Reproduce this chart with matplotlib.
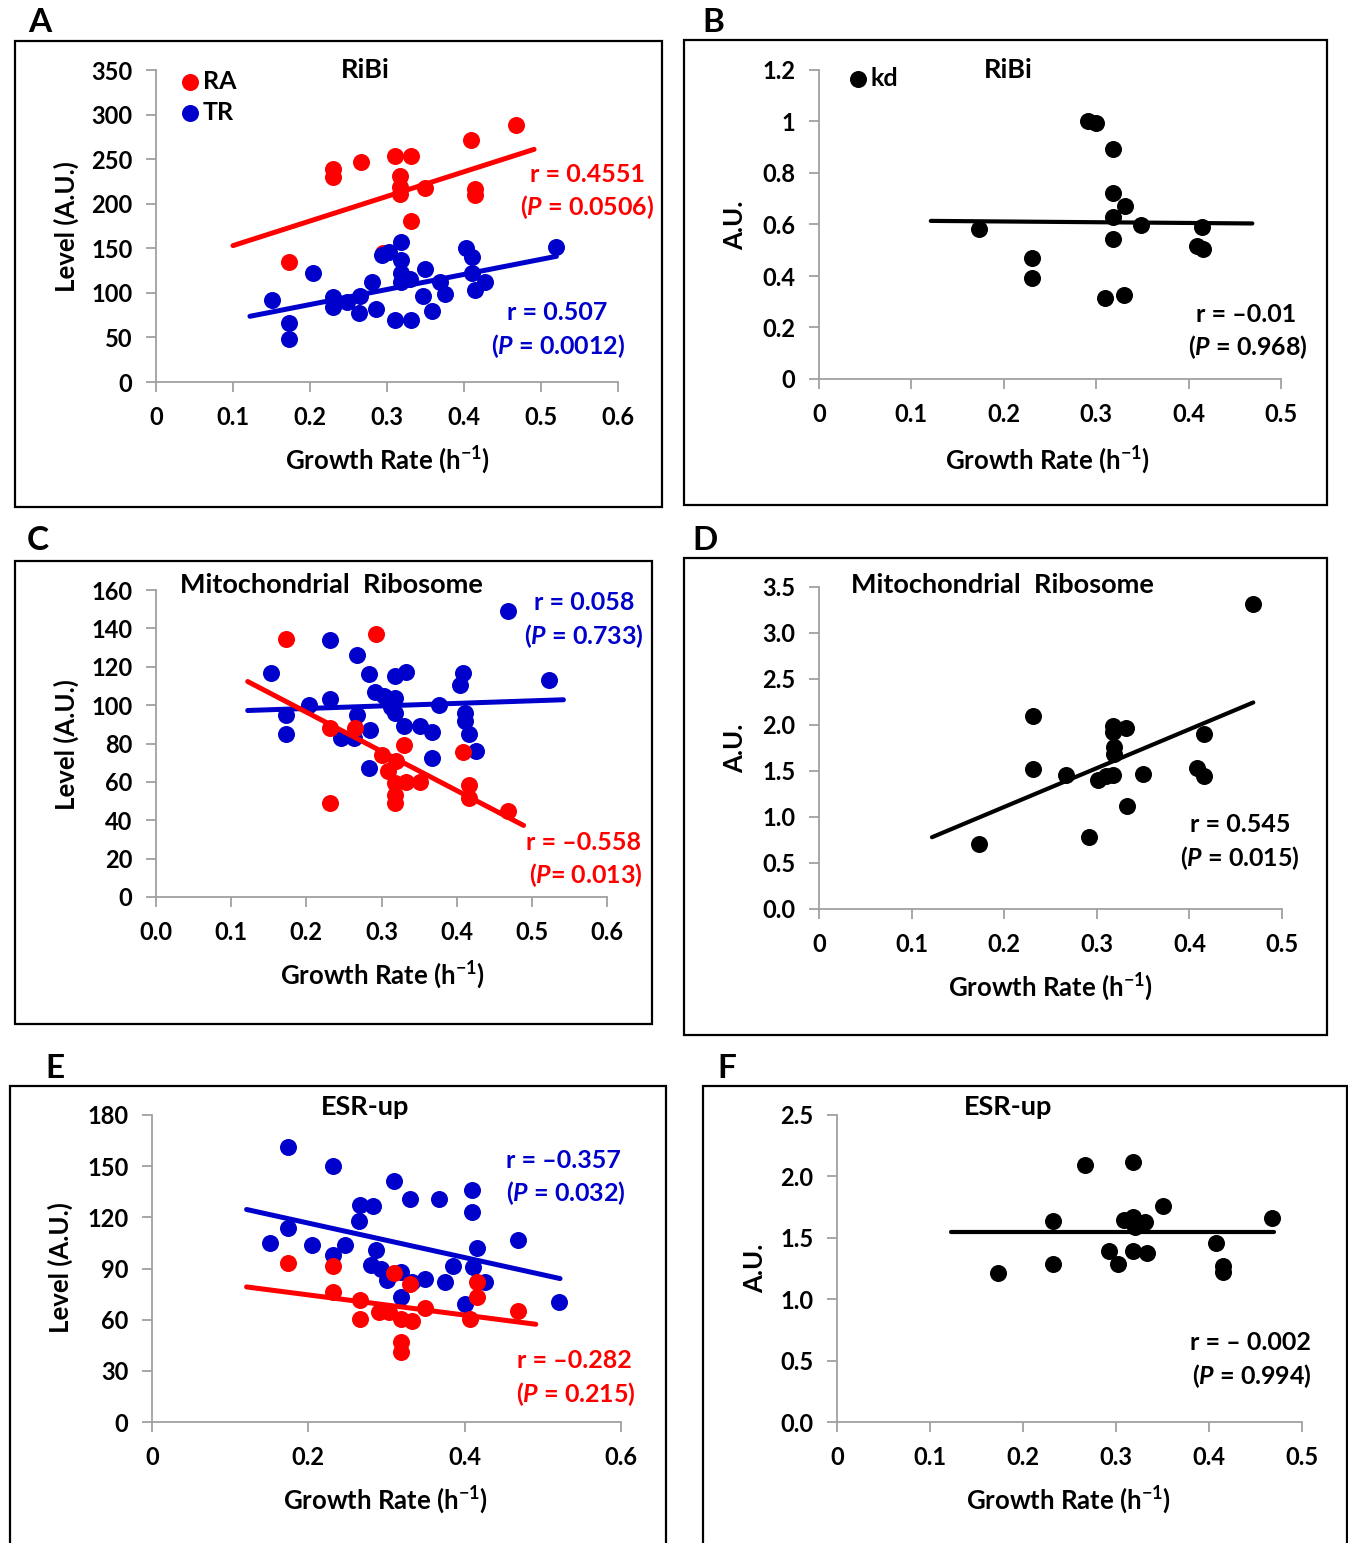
import matplotlib
matplotlib.use("Agg")
import matplotlib.pyplot as plt
from matplotlib.patches import Rectangle

W, H = 1348, 1543
RED = "#ff0000"
BLUE = "#0000cc"
BLACK = "#000000"
GREY = "#a0a0a0"

plt.rcParams.update({
    "font.family": ["Lato", "DejaVu Sans"],
    "font.weight": "bold",
    "axes.labelweight": "bold",
    "mathtext.fontset": "custom",
    "mathtext.rm": "Lato:bold",
    "mathtext.it": "Lato:italic:bold",
    "mathtext.bf": "Lato:bold",
})

# ---- data ---------------------------------------------------------------
# A: RiBi, RA / TR
a_ra_x = [0.173, 0.230, 0.230, 0.266, 0.310, 0.331, 0.317, 0.317, 0.317,
          0.349, 0.331, 0.409, 0.414, 0.414, 0.468, 0.295]
a_ra_y = [135, 239, 230, 247, 253, 253, 231, 219, 211, 218, 181, 272, 217,
          210, 288, 145]
a_tr_x = [0.151, 0.173, 0.173, 0.204, 0.230, 0.230, 0.248, 0.265, 0.263,
          0.281, 0.286, 0.293, 0.302, 0.310, 0.318, 0.318, 0.318, 0.318,
          0.330, 0.331, 0.349, 0.347, 0.359, 0.369, 0.375, 0.403, 0.410,
          0.410, 0.414, 0.427, 0.520]
a_tr_y = [92, 66, 48, 122, 95, 84, 90, 97, 77, 112, 82, 142, 146, 70, 157,
          137, 122, 112, 116, 69, 127, 97, 80, 112, 99, 150, 140, 122, 103,
          112, 152]
a_ra_fit_x, a_ra_fit_y = [0.100, 0.491], [153, 261]
a_tr_fit_x, a_tr_fit_y = [0.122, 0.520], [73.7, 141]

# B: RiBi, kd
b_kd_x = [0.173, 0.231, 0.231, 0.291, 0.300, 0.318, 0.318, 0.331, 0.318,
          0.318, 0.309, 0.330, 0.349, 0.415, 0.409, 0.416]
b_kd_y = [0.582, 0.468, 0.391, 1.001, 0.994, 0.892, 0.723, 0.672, 0.630,
          0.542, 0.314, 0.326, 0.597, 0.591, 0.517, 0.503]
b_kd_fit_x, b_kd_fit_y = [0.121, 0.469], [0.614, 0.604]

# C: Mitochondrial Ribosome, RA / TR
c_ra_x = [0.173, 0.293, 0.231, 0.265, 0.231, 0.330, 0.301, 0.319, 0.309,
          0.318, 0.332, 0.351, 0.318, 0.318, 0.408, 0.416, 0.416, 0.468]
c_ra_y = [134.5, 137, 88, 88, 49, 79, 74, 71, 65.5, 59.5, 60, 60, 53, 49,
          75.5, 58.5, 51.5, 45]
c_tr_x = [0.153, 0.173, 0.173, 0.231, 0.204, 0.231, 0.267, 0.283, 0.267,
          0.285, 0.246, 0.263, 0.283, 0.292, 0.318, 0.333, 0.303, 0.318,
          0.312, 0.318, 0.330, 0.351, 0.367, 0.377, 0.367, 0.408, 0.404,
          0.411, 0.411, 0.416, 0.426, 0.468, 0.523]
c_tr_y = [117, 95, 85, 134, 100, 103, 126, 116, 95, 87, 83, 83, 67, 107,
          115, 117.5, 104.5, 103.5, 99, 96, 89, 89, 86, 100, 72.5, 117,
          110.5, 96, 91.5, 85, 76, 149, 113]
c_ra_fit_x, c_ra_fit_y = [0.122, 0.489], [112.3, 37.3]
c_tr_fit_x, c_tr_fit_y = [0.122, 0.542], [97.2, 102.8]

# D: Mitochondrial Ribosome, kd
d_kd_x = [0.173, 0.231, 0.231, 0.267, 0.292, 0.301, 0.310, 0.318, 0.317,
          0.332, 0.317, 0.319, 0.319, 0.333, 0.350, 0.408, 0.416, 0.416,
          0.469]
d_kd_y = [0.71, 2.10, 1.52, 1.46, 0.78, 1.40, 1.45, 1.46, 1.99, 1.97, 1.92,
          1.76, 1.69, 1.12, 1.47, 1.53, 1.45, 1.90, 3.31]
d_kd_fit_x, d_kd_fit_y = [0.122, 0.469], [0.78, 2.245]

# E: ESR-up, RA / TR
e_tr_x = [0.174, 0.231, 0.309, 0.330, 0.367, 0.410, 0.410, 0.266, 0.283,
          0.265, 0.174, 0.151, 0.205, 0.247, 0.231, 0.286, 0.280, 0.293,
          0.300, 0.319, 0.332, 0.349, 0.319, 0.375, 0.385, 0.416, 0.411,
          0.426, 0.401, 0.468, 0.521]
e_tr_y = [161, 150, 141.5, 131, 131, 136, 123, 127, 126.5, 118, 113.5, 105,
          104, 104, 98, 101, 92, 90, 83.5, 88, 82, 84, 73.5, 82, 91.5, 102,
          91, 82, 69, 107, 70.5]
e_ra_x = [0.174, 0.231, 0.231, 0.266, 0.266, 0.309, 0.330, 0.290, 0.303,
          0.318, 0.332, 0.349, 0.319, 0.319, 0.416, 0.416, 0.407, 0.468]
e_ra_y = [93.5, 91.5, 76, 71.5, 60.5, 87.5, 81, 64.5, 64.5, 60.5, 59.5, 67,
          47, 41, 82, 73, 60.5, 65]
e_tr_fit_x, e_tr_fit_y = [0.121, 0.522], [124.6, 84.1]
e_ra_fit_x, e_ra_fit_y = [0.121, 0.491], [79.2, 57.3]

# F: ESR-up, kd
f_kd_x = [0.173, 0.232, 0.232, 0.267, 0.318, 0.293, 0.302, 0.318, 0.333,
          0.309, 0.318, 0.331, 0.320, 0.351, 0.408, 0.415, 0.415, 0.468]
f_kd_y = [1.21, 1.64, 1.285, 2.09, 2.12, 1.39, 1.29, 1.39, 1.38, 1.645,
          1.67, 1.63, 1.59, 1.755, 1.46, 1.27, 1.225, 1.66]
f_kd_fit_x, f_kd_fit_y = [0.123, 0.470], [1.546, 1.546]

# ticks
ticks_x6 = [0, 0.1, 0.2, 0.3, 0.4, 0.5, 0.6]
labels_x6 = ["0", "0.1", "0.2", "0.3", "0.4", "0.5", "0.6"]
labels_x6c = ["0.0", "0.1", "0.2", "0.3", "0.4", "0.5", "0.6"]
ticks_x5 = [0, 0.1, 0.2, 0.3, 0.4, 0.5]
labels_x5 = ["0", "0.1", "0.2", "0.3", "0.4", "0.5"]
ticks_xe = [0, 0.2, 0.4, 0.6]
labels_xe = ["0", "0.2", "0.4", "0.6"]
ticks_ya = [0, 50, 100, 150, 200, 250, 300, 350]
ticks_yb = [0, 0.2, 0.4, 0.6, 0.8, 1.0, 1.2]
labels_yb = ["0", "0.2", "0.4", "0.6", "0.8", "1", "1.2"]
ticks_yc = [0, 20, 40, 60, 80, 100, 120, 140, 160]
ticks_yd = [0, 0.5, 1.0, 1.5, 2.0, 2.5, 3.0, 3.5]
labels_yd = ["0.0", "0.5", "1.0", "1.5", "2.0", "2.5", "3.0", "3.5"]
ticks_ye = [0, 30, 60, 90, 120, 150, 180]
ticks_yf = [0, 0.5, 1.0, 1.5, 2.0, 2.5]
labels_yf = ["0.0", "0.5", "1.0", "1.5", "2.0", "2.5"]

XLAB = "Growth Rate (h$^{-1}$)"
TICK_FS = 17
NOTE_FS = 18
TITLE_FS = 19.5
LABEL_FS = 18.5

fig = plt.figure(figsize=(W / 100, H / 100), dpi=100)


def fx(px):
    return px / W


def fy(py):
    return 1 - py / H


def make_axes(x0, x1, yb, yt, xlim, ylim, xt, xtl, yt_, ytl):
    ax = fig.add_axes([fx(x0), fy(yb), (x1 - x0) / W, (yb - yt) / H])
    ax.set_xlim(*xlim)
    ax.set_ylim(*ylim)
    ax.patch.set_alpha(0)
    for s in ("top", "right"):
        ax.spines[s].set_visible(False)
    for s in ("left", "bottom"):
        ax.spines[s].set_color(GREY)
        ax.spines[s].set_linewidth(1.3)
    ax.set_xticks(xt, xtl, fontweight="bold")
    ax.set_yticks(yt_, ytl, fontweight="bold")
    ax.tick_params(direction="out", length=7, width=1.3, color=GREY,
                   labelsize=TICK_FS, pad=10)
    return ax


def dots(ax, x, y, c, z, label=None):
    ax.scatter(x, y, s=150, c=c, linewidths=0, zorder=z, clip_on=False,
               label=label)


def fit(ax, x, y, c, z, lw=3.6):
    ax.plot(x, y, color=c, lw=lw, solid_capstyle="round", zorder=z)


def labels(ax, xl, yl, xpos, ypos):
    ax.set_xlabel(xl, fontsize=LABEL_FS)
    ax.xaxis.set_label_coords(fx(xpos[0]), fy(xpos[1]), transform=fig.transFigure)
    ax.set_ylabel(yl, fontsize=LABEL_FS)
    ax.yaxis.set_label_coords(fx(ypos[0]), fy(ypos[1]), transform=fig.transFigure)
    ax.xaxis.label.set_va("center")
    ax.yaxis.label.set_va("center")


def legend(ax, x, y):
    ax.legend(loc="upper left", bbox_to_anchor=(fx(x), fy(y)),
              bbox_transform=fig.transFigure, frameon=False, fontsize=18,
              handlelength=0.55, handletextpad=0.25, labelspacing=0.3,
              borderpad=0, borderaxespad=0, markerscale=1.0)


def note(x, y, s, c, size=NOTE_FS):
    fig.text(fx(x), fy(y), s, color=c, fontsize=size, ha="center", va="center")


# ---- panel A -------------------------------------------------------------
ax = make_axes(156, 618, 382, 70, (0, 0.6), (0, 350), ticks_x6, labels_x6,
               ticks_ya, [str(v) for v in ticks_ya])
dots(ax, a_ra_x, a_ra_y, RED, 3, "RA")
dots(ax, a_tr_x, a_tr_y, BLUE, 4, "TR")
fit(ax, a_ra_fit_x, a_ra_fit_y, RED, 5)
fit(ax, a_tr_fit_x, a_tr_fit_y, BLUE, 5)
legend(ax, 183, 70)
labels(ax, XLAB, "Level (A.U.)", (387, 460), (66, 227))
note(365, 70, "RiBi", BLACK, TITLE_FS)
note(587, 174, "r = 0.4551", RED)
note(587, 207, "($\\it{P}$ = 0.0506)", RED)
note(557, 313, "r = 0.507", BLUE)
note(558, 346, "($\\it{P}$ = 0.0012)", BLUE)

# ---- panel B -------------------------------------------------------------
ax = make_axes(819, 1281, 379, 70, (0, 0.5), (0, 1.2), ticks_x5, labels_x5,
               ticks_yb, labels_yb)
dots(ax, b_kd_x, b_kd_y, BLACK, 3, "kd")
fit(ax, b_kd_fit_x, b_kd_fit_y, BLACK, 5, lw=3.0)
legend(ax, 851, 67)
labels(ax, XLAB, "A.U.", (1047, 460), (735, 225))
note(1008, 70, "RiBi", BLACK, TITLE_FS)
note(1246, 314, "r = \u20130.01", BLACK)
note(1248, 347, "($\\it{P}$ = 0.968)", BLACK)

# ---- panel C -------------------------------------------------------------
ax = make_axes(156, 607, 897, 590, (0, 0.6), (0, 160), ticks_x6, labels_x6c,
               ticks_yc, [str(v) for v in ticks_yc])
dots(ax, c_tr_x, c_tr_y, BLUE, 3)
dots(ax, c_ra_x, c_ra_y, RED, 4)
fit(ax, c_tr_fit_x, c_tr_fit_y, BLUE, 5)
fit(ax, c_ra_fit_x, c_ra_fit_y, RED, 6)
labels(ax, XLAB, "Level (A.U.)", (382, 975), (66, 745))
note(331, 585, "Mitochondrial  Ribosome", BLACK, TITLE_FS)
note(584, 602, "r = 0.058", BLUE)
note(584, 636, "($\\it{P}$ = 0.733)", BLUE)
note(584, 842, "r = \u20130.558", RED)
note(586, 875, "($\\it{P}$= 0.013)", RED)

# ---- panel D -------------------------------------------------------------
ax = make_axes(819, 1282, 909, 587, (0, 0.5), (0, 3.5), ticks_x5, labels_x5,
               ticks_yd, labels_yd)
dots(ax, d_kd_x, d_kd_y, BLACK, 3)
fit(ax, d_kd_fit_x, d_kd_fit_y, BLACK, 5, lw=3.0)
labels(ax, XLAB, "A.U.", (1050, 987), (735, 748))
note(1002, 585, "Mitochondrial  Ribosome", BLACK, TITLE_FS)
note(1240, 824, "r = 0.545", BLACK)
note(1240, 858, "($\\it{P}$ = 0.015)", BLACK)

# ---- panel E -------------------------------------------------------------
ax = make_axes(152, 621, 1422, 1115, (0, 0.6), (0, 180), ticks_xe, labels_xe,
               ticks_ye, [str(v) for v in ticks_ye])
dots(ax, e_tr_x, e_tr_y, BLUE, 3)
dots(ax, e_ra_x, e_ra_y, RED, 4)
fit(ax, e_tr_fit_x, e_tr_fit_y, BLUE, 5)
fit(ax, e_ra_fit_x, e_ra_fit_y, RED, 6)
labels(ax, XLAB, "Level (A.U.)", (385, 1500), (60, 1268))
note(365, 1107, "ESR-up", BLACK, TITLE_FS)
note(563, 1160, "r = \u20130.357", BLUE)
note(566, 1193, "($\\it{P}$ = 0.032)", BLUE)
note(574, 1361, "r = \u20130.282", RED)
note(576, 1394, "($\\it{P}$ = 0.215)", RED)

# ---- panel F -------------------------------------------------------------
ax = make_axes(837, 1302, 1422, 1115, (0, 0.5), (0, 2.5), ticks_x5, labels_x5,
               ticks_yf, labels_yf)
dots(ax, f_kd_x, f_kd_y, BLACK, 3)
fit(ax, f_kd_fit_x, f_kd_fit_y, BLACK, 5, lw=3.0)
labels(ax, XLAB, "A.U.", (1068, 1500), (755, 1268))
note(1008, 1107, "ESR-up", BLACK, TITLE_FS)
note(1250, 1342, "r = \u2013 0.002", BLACK)
note(1252, 1376, "($\\it{P}$ = 0.994)", BLACK)

# ---- panel frames and letters --------------------------------------------
frames = [(15, 41, 662, 507), (684, 40, 1327, 505), (15, 561, 652, 1024),
          (684, 558, 1327, 1035), (10, 1086, 666, 1560), (703, 1086, 1347, 1560)]
for (x0, y0, x1, y1) in frames:
    fig.add_artist(Rectangle((fx(x0), fy(y1)), (x1 - x0) / W, (y1 - y0) / H,
                             transform=fig.transFigure, fill=False,
                             ec="black", lw=1.6))
for letter, (x, y) in zip("ABCDEF", [(40, 22), (713, 22), (38, 540),
                                     (705, 540), (55, 1068), (727, 1068)]):
    fig.text(fx(x), fy(y), letter, fontsize=24, ha="center", va="center")

fig.savefig("out.png", dpi=100)
